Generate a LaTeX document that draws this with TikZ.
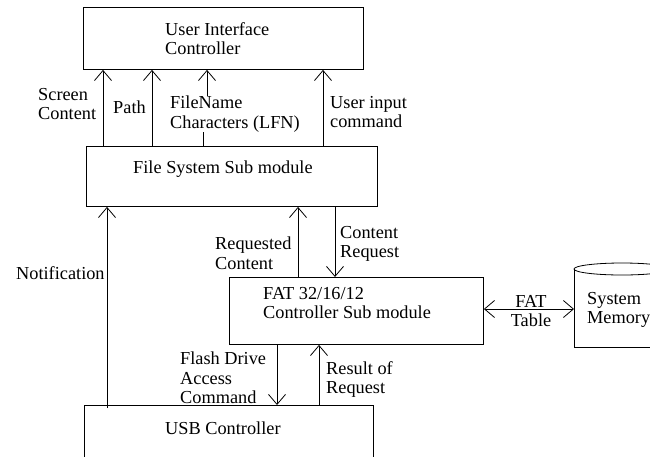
\documentclass[tikz,border=0pt]{standalone}
\usepackage{fontspec}
\setmainfont{Liberation Serif}
\usetikzlibrary{arrows.meta}

\begin{document}
\begin{tikzpicture}[x=1pt, y=-1pt,
  box/.style={draw, line width=0.9pt, rectangle, inner sep=0pt, anchor=north west},
  lbl/.style={font=\fontsize{18.3pt}{19.5pt}\selectfont, align=left, inner sep=0pt, anchor=north west},
  arr/.style={line width=0.8pt, -{Straight Barb[length=10pt,width=17pt]}},
  link/.style={line width=0.8pt}
]
\useasboundingbox (0,0) rectangle (650,456);
\clip (0,0) rectangle (650,456);

% module boxes
\node[box, minimum width=280pt, minimum height=62pt] (ui)  at (83,7)    {};
\node[box, minimum width=291pt, minimum height=60pt] (fs)  at (86,146)  {};
\node[box, minimum width=254pt, minimum height=67pt] (fat) at (229,277) {};
\node[box, minimum width=289pt, minimum height=70pt] (usb) at (84,405)  {};

% system memory drum
\draw[line width=0.8pt] (622,269) ellipse [x radius=48, y radius=6];
\draw[line width=0.9pt] (574,269) -- (574,347) -- (680,347);
\coordinate (mem) at (574,309);

% box titles
\node[lbl] (uit)  at (165,22)  {User Interface\\Controller};
\node[lbl] (fst)  at (133,161) {File System Sub module};
\node[lbl] (fatt) at (263,287) {FAT 32/16/12\\Controller Sub module};
\node[lbl] (usbt) at (165,422) {USB Controller};
\node[lbl] (memt) at (587,292) {System\\Memory};

% connector labels
\node[lbl] (lsc)  at (38,88)   {Screen\\Content};
\node[lbl] (lpa)  at (113,101) {Path};
\node[lbl] (lfn)  at (170,96)  {FileName\\Characters (LFN)};
\node[lbl] (lui)  at (330,96)  {User input\\command};
\node[lbl] (lno)  at (16,266)  {Notification};
\node[lbl] (lrc)  at (215,237) {Requested\\Content};
\node[lbl] (lcr)  at (340,226) {Content\\Request};
\node[lbl, align=center, anchor=north] (lft) at (531,295) {FAT\\Table};
\node[lbl] (lfd)  at (180,352) {Flash Drive\\Access\\Command};
\node[lbl] (lrr)  at (326,361) {Result of\\Request};

% x positions of the vertical connectors
\coordinate (xsc) at (103,0);
\coordinate (xpa) at (152,0);
\coordinate (xfa) at (203,0);
\coordinate (xfb) at (207,0);
\coordinate (xui) at (323,0);
\coordinate (xno) at (107,0);
\coordinate (xrc) at (298,0);
\coordinate (xcr) at (335,0);
\coordinate (xfd) at (277,0);
\coordinate (xrr) at (319,0);

% file system -> user interface
\draw[arr] (fs.north -| xsc) -- (ui.south -| xsc);
\draw[arr] (fs.north -| xpa) -- (ui.south -| xpa);
\draw[link] (fs.north -| xfa) -- (lfn.south -| xfa);
\draw[arr] (lfn.north -| xfb) -- (ui.south -| xfb);
\draw[arr] (fs.north -| xui) -- (ui.south -| xui);

% usb / fat <-> file system
\draw[arr] ([yshift=-3pt]usb.north -| xno) -- (fs.south -| xno);
\draw[arr] (fat.north -| xrc) -- (fs.south -| xrc);
\draw[arr] (fs.south -| xcr) -- (fat.north -| xcr);

% fat <-> usb
\draw[arr] (fat.south -| xfd) -- (usb.north -| xfd);
\draw[arr] (usb.north -| xrr) -- (fat.south -| xrr);

% fat <-> system memory
\draw[line width=0.8pt, {Straight Barb[length=10pt,width=17pt]}-{Straight Barb[length=10pt,width=17pt]}]
  (fat.east |- mem) -- (mem);
\end{tikzpicture}
\end{document}
